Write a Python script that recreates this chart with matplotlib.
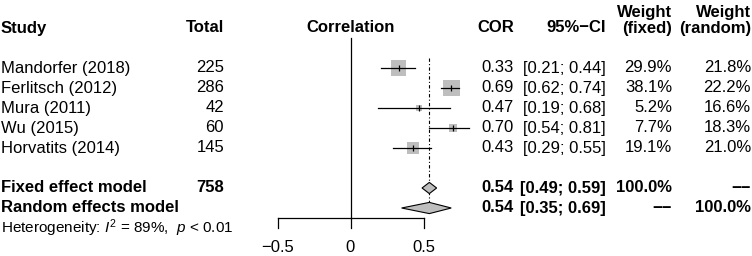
import numpy as np
import matplotlib.pyplot as plt
from matplotlib.patches import Polygon
from matplotlib.transforms import blended_transform_factory

plt.rcParams['font.family'] = ['Liberation Sans', 'DejaVu Sans']
plt.rcParams['mathtext.fontset'] = 'custom'
plt.rcParams['mathtext.rm'] = 'Liberation Sans'
plt.rcParams['mathtext.it'] = 'Liberation Sans:italic'

# data
studies = ['Mandorfer (2018)', 'Ferlitsch (2012)', 'Mura (2011)', 'Wu (2015)', 'Horvatits (2014)']
totals = [225, 286, 42, 60, 145]
cor = [0.33, 0.69, 0.47, 0.70, 0.43]
lower = [0.21, 0.62, 0.19, 0.54, 0.29]
upper = [0.44, 0.74, 0.68, 0.81, 0.55]
w_fixed = [29.9, 38.1, 5.2, 7.7, 19.1]
w_random = [21.8, 22.2, 16.6, 18.3, 21.0]
fixed_est = [0.54, 0.49, 0.59]
random_est = [0.54, 0.35, 0.69]
fixed_total = 758
i2 = 89
pval = '< 0.01'
ticks = [-0.5, 0, 0.5]

W, H = 752, 256
fig = plt.figure(figsize=(W / 100, H / 100), dpi=100)
ax = fig.add_axes([0, 0, 1, 1])
# correlation 0 sits at pixel 350.5, one unit = 146 px; rows are 20 px apart, first row at 68 px
x0, unit = 350.5, 146.0
ax.set_xlim(-x0 / unit, (W - x0) / unit)
ax.set_ylim((H - 68) / 20, -68 / 20)
ax.axis('off')

tr = blended_transform_factory(fig.transFigure, ax.transData)
fs = 12
bold = dict(fontsize=fs, fontweight='bold', transform=tr, va='center')
norm = dict(fontsize=fs, transform=tr, va='center')
dashes = '\u2212\u2212'


def px(x):
    return x / W


gray = '#BEBEBE'

# headers
hy = -2
ax.text(px(1), hy, 'Study', ha='left', **bold)
ax.text(px(224), hy, 'Total', ha='right', **bold)
ax.text(0, hy, 'Correlation', ha='center', va='center', fontsize=fs, fontweight='bold')
ax.text(px(514), hy, 'COR', ha='right', **bold)
ax.text(px(606), hy, '95%\u2212CI', ha='right', **bold)
ax.text(px(672), hy - 0.8, 'Weight', ha='right', **bold)
ax.text(px(672), hy, '(fixed)', ha='right', **bold)
ax.text(px(751), hy - 0.8, 'Weight', ha='right', **bold)
ax.text(px(751), hy, '(random)', ha='right', **bold)

# study rows
for i, s in enumerate(studies):
    ax.text(px(1), i, s, ha='left', **norm)
    ax.text(px(224), i, str(totals[i]), ha='right', **norm)
    ax.text(px(514), i, f'{cor[i]:.2f}', ha='right', **norm)
    ax.text(px(606), i, f'[{lower[i]:.2f}; {upper[i]:.2f}]', ha='right', **norm)
    ax.text(px(672), i, f'{w_fixed[i]:.1f}%', ha='right', **norm)
    ax.text(px(751), i, f'{w_random[i]:.1f}%', ha='right', **norm)

    side = 2.75 * np.sqrt(w_fixed[i]) * 0.72  # points
    ax.scatter(cor[i], i, marker='s', s=side ** 2, color=gray, edgecolor='none', zorder=2)
    ax.plot([lower[i], upper[i]], [i, i], color='black', lw=0.9, zorder=3)
    ax.plot(cor[i], i, marker='|', color='black', ms=5, mew=0.9, zorder=3)

# summary rows
fy, ry = 6, 7
ax.text(px(1), fy, 'Fixed effect model', ha='left', **bold)
ax.text(px(224), fy, str(fixed_total), ha='right', **bold)
ax.text(px(514), fy, f'{fixed_est[0]:.2f}', ha='right', **bold)
ax.text(px(606), fy, f'[{fixed_est[1]:.2f}; {fixed_est[2]:.2f}]', ha='right', **bold)
ax.text(px(672), fy, '100.0%', ha='right', **bold)
ax.text(px(751), fy, dashes, ha='right', **bold)

ax.text(px(1), ry, 'Random effects model', ha='left', **bold)
ax.text(px(514), ry, f'{random_est[0]:.2f}', ha='right', **bold)
ax.text(px(606), ry, f'[{random_est[1]:.2f}; {random_est[2]:.2f}]', ha='right', **bold)
ax.text(px(672), ry, dashes, ha='right', **bold)
ax.text(px(751), ry, '100.0%', ha='right', **bold)

ax.text(px(1), 8, f'Heterogeneity: $I^2$ = {i2}%,  $p$ {pval}', ha='left',
        fontsize=11, transform=tr, va='center')

dh = 0.28
for (est, lo, hi), y in [(fixed_est, fy), (random_est, ry)]:
    ax.add_patch(Polygon([[lo, y], [est, y - dh], [hi, y], [est, y + dh]],
                         closed=True, facecolor=gray, edgecolor='black', lw=0.8, zorder=3))

# reference lines
ax.plot([0, 0], [-1.5, 7.5], color='black', lw=0.9)
ax.plot([fixed_est[0]] * 2, [-0.5, 6.8], color='black', lw=0.8,
        linestyle=(0, (3, 2, 1, 2)), zorder=1)

# bottom axis
ax.plot([ticks[0], ticks[-1]], [7.5, 7.5], color='black', lw=0.9)
for t in ticks:
    ax.plot([t, t], [7.5, 8.0], color='black', lw=0.9)
    lab = f'{t:g}'.replace('-', '\u2212')
    ax.text(t, 9, lab, ha='center', va='center', fontsize=fs)

fig.savefig('out.png', dpi=100)
